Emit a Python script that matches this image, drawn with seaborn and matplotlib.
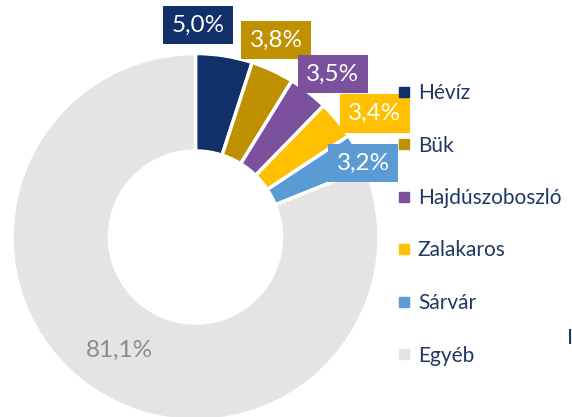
import matplotlib
matplotlib.use("Agg")
import matplotlib.pyplot as plt
from matplotlib.lines import Line2D
import seaborn as sns

# Share of guest nights by spa town
towns = ["Hévíz", "Bük", "Hajdúszoboszló", "Zalakaros", "Sárvár", "Egyéb"]
shares = [5.0, 3.8, 3.5, 3.4, 3.2, 81.1]
share_labels = ["5,0%", "3,8%", "3,5%", "3,4%", "3,2%", "81,1%"]
colors = ["#12306A", "#BF9000", "#7B519D", "#FFC000", "#5B9BD5", "#E4E4E4"]

sns.set_theme(style="white")
plt.rcParams["font.family"] = ["Lato", "DejaVu Sans"]

W, H = 572, 417
fig = plt.figure(figsize=(W / 100, H / 100), dpi=100)
fig.patch.set_facecolor("white")

# ring centre and outer radius in pixels
cx, cy, R = 195.5, 237.0, 183.5
ax = fig.add_axes([(cx - R) / W, (H - cy - R) / H, 2 * R / W, 2 * R / H])

inner = 86.0 / R
wedges, _ = ax.pie(
    shares,
    colors=colors,
    startangle=90,
    counterclock=False,
    radius=1.0,
    wedgeprops=dict(width=1 - inner, edgecolor="white", linewidth=2.5),
)
ax.set_xlim(-1, 1)
ax.set_ylim(-1, 1)
ax.set_aspect("equal")
ax.axis("off")

# callout boxes for the five named towns
box_centres = [(0.014, 1.154), (0.440, 1.074), (0.747, 0.887), (0.978, 0.673), (0.915, 0.402)]
for (bx, by), lab, col in zip(box_centres, share_labels[:5], colors[:5]):
    ax.text(bx, by, lab, ha="center", va="center", color="white", fontsize=17.5,
            bbox=dict(boxstyle="square,pad=0.35", facecolor=col, edgecolor="none"),
            zorder=5, clip_on=False)

# label for the remaining share, inside the ring
ax.text(-0.415, -0.618, share_labels[5], ha="center", va="center",
        color="#8C8C8C", fontsize=17.5)

navy = "#1F3864"
handles = [Line2D([], [], marker="s", linestyle="", markersize=7, color=c) for c in colors]
fig.legend(handles, towns, loc="upper left", bbox_to_anchor=(396 / W, 1 - 83 / H),
           frameon=False, fontsize=15, labelcolor=navy, handlelength=0.75,
           handletextpad=0.3, labelspacing=1.56, borderpad=0, borderaxespad=0)

fig.text(567 / W, 1 - 338 / H, "I", color=navy, fontsize=16, ha="left", va="center")

fig.savefig("out.png", dpi=100)
